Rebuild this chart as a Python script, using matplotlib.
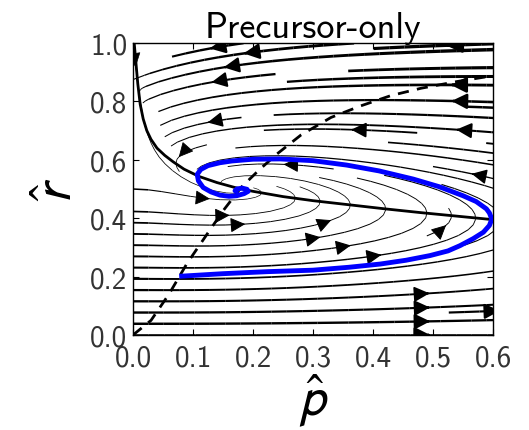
import numpy as np
import matplotlib
matplotlib.use("Agg")
import matplotlib.pyplot as plt

plt.rcParams['font.family'] = ['cmss10', 'DejaVu Sans']
plt.rcParams['mathtext.fontset'] = 'stixsans'
plt.rcParams['axes.formatter.use_mathtext'] = False
plt.rcParams['axes.unicode_minus'] = False

# p-nullcline (solid black)
solid_p = [0.0, 0.002, 0.005, 0.008, 0.012, 0.017, 0.023, 0.03, 0.04, 0.053, 0.067, 0.085, 0.11,
           0.14, 0.17, 0.2, 0.25, 0.3, 0.36, 0.42, 0.48, 0.54, 0.6]
solid_r = [1.0, 1.0, 0.93, 0.86, 0.79, 0.74, 0.70, 0.67, 0.64, 0.615, 0.593, 0.568, 0.543,
           0.522, 0.505, 0.492, 0.474, 0.46, 0.446, 0.432, 0.419, 0.407, 0.395]

# r-nullcline (dashed black)
dash_p = [0.0, 0.03, 0.06, 0.09, 0.12, 0.15, 0.18, 0.21, 0.24, 0.28, 0.33, 0.38, 0.43, 0.48, 0.54, 0.60]
dash_r = [0.0, 0.05, 0.14, 0.245, 0.335, 0.425, 0.505, 0.565, 0.62, 0.685, 0.745, 0.785, 0.82, 0.845, 0.868, 0.888]

# blue trajectory
traj_p = [0.077, 0.15, 0.225, 0.30, 0.36, 0.412, 0.455, 0.495, 0.525, 0.545, 0.567, 0.584, 0.594, 0.598,
          0.594, 0.589, 0.572, 0.55, 0.51, 0.467, 0.41, 0.356, 0.30, 0.245, 0.20, 0.165, 0.145, 0.125,
          0.113, 0.107, 0.109, 0.117, 0.13, 0.145, 0.16, 0.173, 0.185, 0.192, 0.19, 0.182, 0.173, 0.17, 0.176]
traj_r = [0.201, 0.21, 0.217, 0.222, 0.232, 0.243, 0.256, 0.272, 0.288, 0.306, 0.33, 0.352, 0.375, 0.397,
          0.418, 0.432, 0.457, 0.477, 0.508, 0.534, 0.562, 0.582, 0.597, 0.603, 0.602, 0.596, 0.59, 0.58,
          0.567, 0.55, 0.528, 0.505, 0.49, 0.479, 0.475, 0.477, 0.484, 0.492, 0.499, 0.503, 0.5, 0.494, 0.492]

relax_rate = 0.6
x_ticks = [0.0, 0.1, 0.2, 0.3, 0.4, 0.5, 0.6]
y_ticks = [0.0, 0.2, 0.4, 0.6, 0.8, 1.0]

def field(P, R, c=relax_rate):
    rs = np.interp(P, solid_p, solid_r)
    rd = np.interp(P, dash_p, dash_r)
    q = (1 - rs) / rs
    return (rs - R) / rs, c * R * q * (rd - R)

fig = plt.figure(figsize=(5.29, 4.31), dpi=100)
ax = fig.add_axes([133/529, 1-336/431, 360/529, 292/431])

pg = np.linspace(0, 1.0, 200)
rg = np.linspace(0, 1.0, 200)
PP, RR = np.meshgrid(pg, rg)
U, V = field(PP, RR)
speed = np.hypot(U, V)
lw = 0.4 + 2.2 * speed / speed.max()
ax.streamplot(PP, RR, U, V, color='k', linewidth=lw, density=(1.3, 0.9), arrowsize=2.3, zorder=1)

ax.plot(solid_p, solid_r, color='k', lw=2.0, zorder=3)
ax.plot(dash_p, dash_r, color='k', lw=2.0, ls=(0, (4, 3)), zorder=3)
ax.plot(traj_p, traj_r, color='#0000ff', lw=3.5, solid_capstyle='butt', solid_joinstyle='round', zorder=4)

ax.set_xlim(0, 0.6)
ax.set_ylim(0, 1.0)
ax.set_xticks(x_ticks)
ax.set_yticks(y_ticks)
ax.set_xticklabels([f'{v:.1f}' for v in x_ticks])
ax.set_yticklabels([f'{v:.1f}' for v in y_ticks])
ax.tick_params(direction='in', top=True, right=True, length=4, width=0.8,
               labelsize=21, labelcolor='#333333', pad=4)
ax.tick_params(axis='x', pad=7)
for s in ax.spines.values():
    s.set_linewidth(1.0)
ax.set_title('Precursor-only', fontsize=26, pad=4)
ax.set_xlabel(r'$\hat{p}$', fontsize=38, labelpad=0)
ax.set_ylabel(r'$\hat{r}$', fontsize=38, labelpad=6)

fig.savefig('out.png', dpi=100)
